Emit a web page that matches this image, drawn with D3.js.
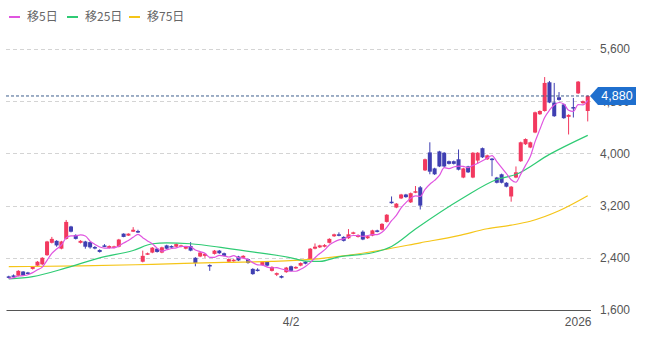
<!DOCTYPE html>
<html>
<head>
<meta charset="utf-8">
<script src="https://cdn.jsdelivr.net/npm/d3@7"></script>
<style>
  body { margin: 0; background: #fff; }
  svg { display: block; font-family: "Liberation Sans", Arial, sans-serif; }
  .legend text { font-family: "Noto Sans CJK JP", sans-serif; }
</style>
</head>
<body>
<svg></svg>
<script>
let open = [
  2115, 2130, 2125, 2190, 2175, 2230, 2280, 2300, 2440, 2630,
  2660, 2540, 2690, 2880, 2750, 2630, 2650, 2640, 2565, 2520,
  2590, 2550, 2555, 2570, 2770, 2740, 2800, 2810, 2340, 2455,
  2480, 2540, 2480, 2590, 2580, 2570, 2570, 2540, 2580, 2400,
  2420, 2430, 2290, 2460, 2510, 2470, 2340, 2350, 2420, 2400,
  2380, 2230, 2220, 2290, 2340, 2200, 2140, 2120, 2180, 2270,
  2240, 2280, 2340, 2380, 2540, 2560, 2570, 2630, 2730, 2760,
  2720, 2700, 2770, 2720, 2800, 2700, 2740, 2820, 2830, 2950,
  3260, 3170, 3310, 3370, 3250, 3400, 3480, 3740, 4015, 3770,
  4030, 4010, 3880, 3880, 3910, 3630, 3800, 3630, 3890, 4080,
  3910, 3920, 3630, 3680, 3550, 3340, 3630, 3880, 4140, 4090,
  4320, 4600, 4650, 5090, 4780, 4860, 4750, 4560, 4710, 4920,
  4770, 4650
]
let high = [
  2125, 2145, 2210, 2195, 2185, 2270, 2350, 2410, 2660, 2720,
  2670, 2660, 2980, 2890, 2760, 2670, 2660, 2650, 2580, 2530,
  2610, 2590, 2585, 2690, 2775, 2775, 2870, 2830, 2510, 2480,
  2565, 2550, 2570, 2600, 2590, 2620, 2600, 2580, 2640, 2410,
  2490, 2470, 2300, 2520, 2520, 2480, 2390, 2380, 2430, 2440,
  2390, 2240, 2240, 2350, 2350, 2270, 2175, 2130, 2260, 2280,
  2270, 2330, 2350, 2550, 2620, 2600, 2610, 2700, 2770, 2790,
  2730, 2840, 2800, 2760, 2820, 2740, 2830, 2830, 2930, 3070,
  3340, 3240, 3380, 3380, 3400, 3500, 3500, 3920, 4170, 3780,
  4040, 4020, 3890, 3890, 4060, 3780, 3810, 4020, 4020, 4090,
  3980, 3930, 3640, 3690, 3560, 3500, 3800, 4180, 4230, 4180,
  4640, 4660, 5170, 5110, 5080, 4940, 4760, 4600, 4850, 5110,
  4810, 4890
]
let low = [
  2085, 2110, 2115, 2120, 2150, 2220, 2275, 2290, 2430, 2620,
  2570, 2530, 2680, 2790, 2680, 2620, 2540, 2540, 2530, 2480,
  2565, 2540, 2545, 2560, 2715, 2735, 2795, 2780, 2330, 2445,
  2470, 2480, 2470, 2530, 2555, 2560, 2560, 2530, 2500, 2270,
  2410, 2400, 2200, 2450, 2460, 2420, 2330, 2340, 2350, 2390,
  2310, 2140, 2190, 2280, 2270, 2190, 2120, 2085, 2170, 2190,
  2230, 2270, 2300, 2370, 2530, 2550, 2560, 2620, 2720, 2730,
  2650, 2690, 2760, 2710, 2670, 2690, 2730, 2790, 2820, 2940,
  3230, 3160, 3300, 3320, 3240, 3390, 3140, 3730, 3680, 3670,
  3790, 3790, 3830, 3830, 3740, 3620, 3700, 3620, 3840, 3930,
  3900, 3650, 3540, 3540, 3480, 3260, 3620, 3870, 4130, 4080,
  4310, 4590, 4640, 4770, 4560, 4810, 4530, 4290, 4550, 4910,
  4760, 4490
]
let close = [
  2095, 2120, 2200, 2130, 2155, 2260, 2340, 2400, 2650, 2690,
  2590, 2650, 2950, 2800, 2690, 2660, 2570, 2560, 2545, 2490,
  2575, 2580, 2575, 2680, 2720, 2770, 2830, 2795, 2430, 2470,
  2555, 2490, 2560, 2540, 2565, 2610, 2590, 2570, 2510, 2320,
  2480, 2460, 2270, 2510, 2470, 2430, 2380, 2370, 2360, 2430,
  2320, 2150, 2200, 2340, 2280, 2260, 2165, 2095, 2250, 2200,
  2260, 2320, 2310, 2540, 2570, 2590, 2595, 2690, 2760, 2740,
  2660, 2760, 2790, 2750, 2680, 2730, 2820, 2800, 2920, 3060,
  3240, 3230, 3370, 3330, 3390, 3420, 3200, 3910, 3720, 3680,
  3800, 3800, 3840, 3840, 3750, 3770, 3710, 4010, 4010, 3940,
  3970, 3900, 3550, 3550, 3490, 3490, 3710, 4170, 4220, 4170,
  4630, 4650, 5080, 4780, 4570, 4820, 4540, 4590, 4690, 5100,
  4800, 4880
]
// closes before the first visible candle, only used for the 5-day average
let priorCloses = [2060, 2080, 2100, 2090]

// 25 / 75 day averages: [candle index, value]
let ma25 = [
  [0, 2077], [5, 2112], [12, 2245], [19, 2400], [26, 2512], [30, 2615],
  [33, 2630], [38, 2615], [45, 2553], [52, 2480], [59, 2400], [62, 2350],
  [65, 2345], [69, 2415], [76, 2477], [80, 2574], [85, 2840], [95, 3320],
  [102, 3600], [106, 3677], [113, 3985], [121, 4277]
]
let ma75 = [
  [0, 2265], [15, 2275], [30, 2300], [45, 2330], [55, 2345], [63, 2375],
  [70, 2430], [78, 2520], [86, 2630], [94, 2740], [100, 2845], [105, 2900],
  [109, 2960], [115, 3120], [121, 3350]
]

let yTicks = [1600, 2400, 3200, 4000, 4800, 5600]
let xTickIndex = [59, 119]
let xTickLabels = ['4/2', '2026']
let legendNames = ['移5日', '移25日', '移75日']

window.addEventListener('DOMContentLoaded', () => {
  let width = 649
  let height = 337
  let upColor = '#f2395f'
  let downColor = '#3f3fb2'
  let lineColors = ['#e055e0', '#2fcb74', '#f5c518']

  let svg = d3.select('svg')
      .attr('width', width)
      .attr('height', height)

  let x = d3.scaleBand()
            .domain(d3.range(close.length))
            .range([6, 590.5])
            .padding(0.16)
  let cx = i => x(i) + x.bandwidth() / 2

  let y = d3.scaleLinear()
            .domain([1600, 5600])
            .range([310, 49])

  // grid
  svg.append('g')
    .selectAll('line')
    .data(yTicks.filter(d => d > 1600))
    .enter()
    .append('line')
      .attr('x1', 6)
      .attr('x2', 592)
      .attr('y1', d => Math.round(y(d)) + 0.5)
      .attr('y2', d => Math.round(y(d)) + 0.5)
      .attr('stroke', '#d4d4d4')
      .attr('stroke-dasharray', '4,3')

  // moving averages
  let ma5 = close.map((c, i) => {
    let all = priorCloses.concat(close.slice(0, i + 1))
    return [i, d3.mean(all.slice(-5))]
  })

  let lineGen = d3.line()
                  .x(d => cx(d[0]))
                  .y(d => y(d[1]))
                  .curve(d3.curveMonotoneX)

  let maGroup = svg.append('g').attr('fill', 'none')
  ;[ma75, ma25].forEach((series, k) => {
    maGroup.append('path')
      .attr('d', lineGen(series))
      .attr('stroke', lineColors[2 - k])
      .attr('stroke-width', 1.2)
  })

  // candles
  let candles = svg.append('g')
    .selectAll('.candle')
    .data(close.map((c, i) => ({ i, o: open[i], h: high[i], l: low[i], c })))
    .enter()
    .append('g')
      .classed('candle', true)
      .attr('fill', d => d.c >= d.o ? upColor : downColor)
      .attr('stroke', d => d.c >= d.o ? upColor : downColor)

  candles.append('line')
    .attr('x1', d => cx(d.i))
    .attr('x2', d => cx(d.i))
    .attr('y1', d => y(d.h))
    .attr('y2', d => y(d.l))
    .attr('stroke-width', 1)

  candles.append('rect')
    .attr('x', d => x(d.i))
    .attr('width', x.bandwidth())
    .attr('y', d => y(Math.max(d.o, d.c)))
    .attr('height', d => Math.max(1.5, Math.abs(y(d.o) - y(d.c))))
    .attr('stroke', 'none')

  maGroup.raise()
  maGroup.append('path')
    .attr('d', lineGen(ma5))
    .attr('stroke', lineColors[0])
    .attr('stroke-width', 1.2)

  // last price line
  let last = close[close.length - 1]
  svg.append('line')
    .attr('x1', 6)
    .attr('x2', 592)
    .attr('y1', y(last))
    .attr('y2', y(last))
    .attr('stroke', '#3f5f8c')
    .attr('stroke-dasharray', '3,2')

  // axes
  svg.append('g')
      .attr('transform', 'translate(0, 310)')
      .call(d3.axisBottom(x)
              .tickValues(xTickIndex)
              .tickFormat((d, i) => xTickLabels[i])
              .tickSize(0)
              .tickPadding(7))
      .call(g => g.select('.domain').attr('stroke', '#555'))
      .call(g => g.selectAll('text')
                  .attr('fill', '#555')
                  .style('font-size', '12px')
                  .style('font-family', '"Liberation Sans", Arial, sans-serif'))

  svg.append('g')
      .attr('transform', 'translate(592, 0)')
      .call(d3.axisRight(y)
              .tickValues(yTicks)
              .tickFormat(d3.format(','))
              .tickSize(0)
              .tickPadding(8))
      .call(g => g.select('.domain').remove())
      .call(g => g.selectAll('text')
                  .attr('fill', '#555')
                  .style('font-size', '12px')
                  .style('font-family', '"Liberation Sans", Arial, sans-serif'))

  // price badge, drawn over the 4,800 label as in the original
  let by = y(last)
  svg.append('path')
    .attr('d', `M590,${by} L598,${by - 9} L636,${by - 9} L636,${by + 9} L598,${by + 9} Z`)
    .attr('fill', '#1f6fce')
  svg.append('text')
    .attr('x', 617)
    .attr('y', by)
    .attr('dy', '0.36em')
    .attr('text-anchor', 'middle')
    .attr('fill', '#fff')
    .style('font-size', '12.5px')
    .text(d3.format(',')(last))

  // legend
  let legendX = [9, 67, 129]
  let legend = svg.append('g')
      .classed('legend', true)
    .selectAll('g')
    .data(legendNames)
    .enter()
    .append('g')
      .attr('transform', (d, i) => `translate(${legendX[i]}, 17)`)

  legend.append('line')
    .attr('x1', 0)
    .attr('x2', 11)
    .attr('stroke', (d, i) => lineColors[i])
    .attr('stroke-width', 2)

  legend.append('text')
    .attr('x', 18)
    .attr('dy', '0.35em')
    .attr('fill', '#666')
    .style('font-size', '12px')
    .text(d => d)
})
</script>
</body>
</html>
